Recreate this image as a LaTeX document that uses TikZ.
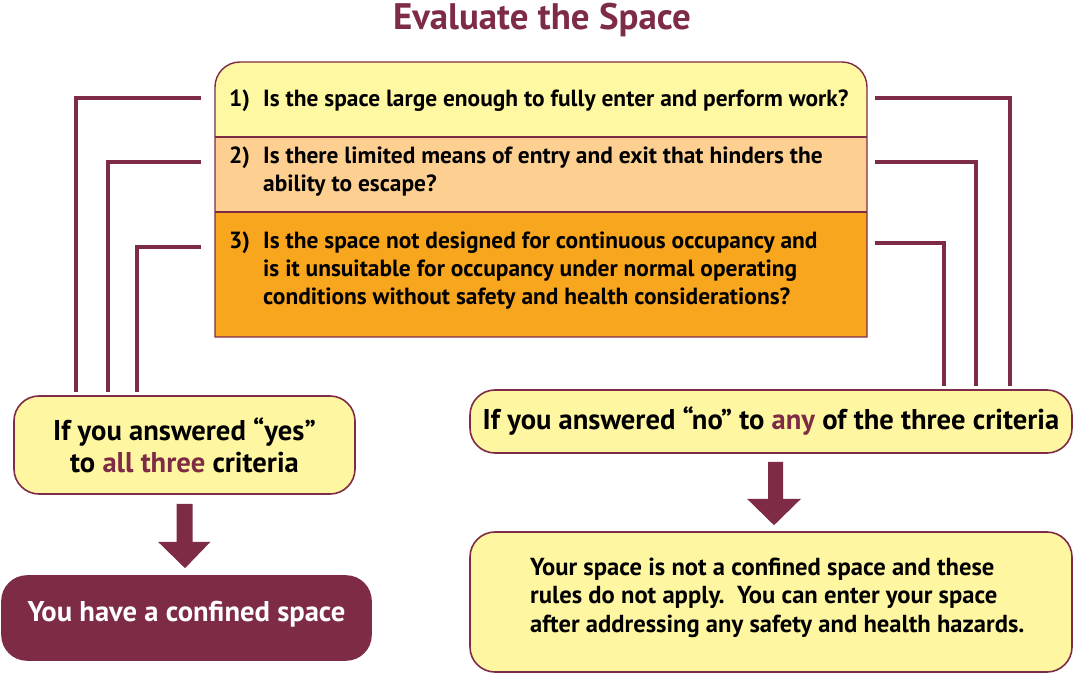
\documentclass[tikz,border=0pt]{standalone}
\usepackage{fontspec}
\setmainfont{PT Sans}
\usetikzlibrary{calc}
\definecolor{maroon}{HTML}{7E2B46}
\definecolor{rowA}{HTML}{FFF8A3}
\definecolor{rowB}{HTML}{FDD091}
\definecolor{rowC}{HTML}{F8A61E}
\definecolor{boxfill}{HTML}{FFF6A2}
\tikzset{
  qtext/.style={anchor=base west, inner sep=0pt, align=left, font=\bfseries\fontsize{23.4}{28}\selectfont},
  conn/.style={draw=maroon, line width=4pt},
  answerbox/.style={draw=maroon, line width=1.6pt, fill=boxfill, rounded corners=25pt, align=center, inner sep=0pt},
  bigfont/.style={font=\bfseries\fontsize{28.6}{32}\selectfont},
  arrowfill/.style={fill=maroon}
}
\begin{document}
\begin{tikzpicture}[x=1pt,y=-1pt]
\useasboundingbox (0,0) rectangle (1080,684);
% title
\node[font=\bfseries\fontsize{36.9}{40}\selectfont, text=maroon] (title) at (542,20) {Evaluate the Space};
% question box rows
\fill[rowA] (215,137) [rounded corners=25pt] -- (215,62) -- (867,62) [sharp corners] -- (867,137) -- cycle;
\fill[rowB] (215,137) rectangle (867,212);
\fill[rowC] (215,212) rectangle (867,337);
\draw[maroon, line width=2pt] (215,137) -- (867,137);
\draw[maroon, line width=2pt] (215,212) -- (867,212);
\draw[maroon, line width=1.4pt] (215,337) [rounded corners=25pt] -- (215,62) -- (867,62) [sharp corners] -- (867,337) -- cycle;
% questions (base anchor = baseline of the last line)
\node[qtext] (n1) at (229,107) {1)};
\node[qtext] (q1) at (263,107) {Is the space large enough to fully enter and perform work?};
\node[qtext] (n2) at (229,164) {2)};
\node[qtext] (q2) at (263,192) {Is there limited means of entry and exit that hinders the\\ability to escape?};
\node[qtext] (n3) at (229,249) {3)};
\node[qtext] (q3) at (263,305) {Is the space not designed for continuous occupancy and\\is it unsuitable for occupancy under normal operating\\conditions without safety and health considerations?};
% answer boxes
\node[answerbox, bigfont, minimum width=341pt, minimum height=98pt] (yes) at (184.5,445) {If you answered “yes”\\to \textcolor{maroon}{all three} criteria};
\node[answerbox, bigfont, minimum width=602pt, minimum height=63pt] (no) at (771,421.5) {If you answered “no” to \textcolor{maroon}{any} of the three criteria};
\node[draw=maroon, line width=1.6pt, fill=maroon, rounded corners=25pt, minimum width=369pt, minimum height=84pt, text height=20pt, text depth=12pt, text=white, font=\bfseries\fontsize{28.6}{32}\selectfont] (conf) at (186.5,618) {You have a confined space};
\node[answerbox, minimum width=602pt, minimum height=140pt] (res) at (771,602) {};
\node[qtext, font=\bfseries\fontsize{24.6}{28.5}\selectfont] (restext) at (530,632) {Your space is not a confined space and these\\rules do not apply.\ \ You can enter your space\\after addressing any safety and health hazards.};
% connectors left
\coordinate (la1) at (201,98);  \coordinate (lb1) at (76,392);
\coordinate (la2) at (201,162); \coordinate (lb2) at (108,392);
\coordinate (la3) at (201,247); \coordinate (lb3) at (137,392);
\draw[conn] (la1) -| (lb1);
\draw[conn] (la2) -| (lb2);
\draw[conn] (la3) -| (lb3);
% connectors right
\coordinate (ra1) at (875,98);  \coordinate (rb1) at (1010,386);
\coordinate (ra2) at (875,162); \coordinate (rb2) at (976,386);
\coordinate (ra3) at (875,243); \coordinate (rb3) at (944,386);
\draw[conn] (ra1) -| (rb1);
\draw[conn] (ra2) -| (rb2);
\draw[conn] (ra3) -| (rb3);
% arrows
\fill[arrowfill] ($(yes.south)+(-8,9)$) -- ++(16,0) -- ++(0,38) -- ++(18,0) -- ($(conf.north)+(-1.5,-7)$) -- ($(yes.south)+(-26.5,47)$) -- ++(18.5,0) -- cycle;
\fill[arrowfill] ($(no.south)+(-3,8)$) -- ++(15,0) -- ++(0,37) -- ++(18,0) -- ($(res.north)+(3,-6)$) -- ($(no.south)+(-24,45)$) -- ++(21,0) -- cycle;
\end{tikzpicture}
\end{document}
